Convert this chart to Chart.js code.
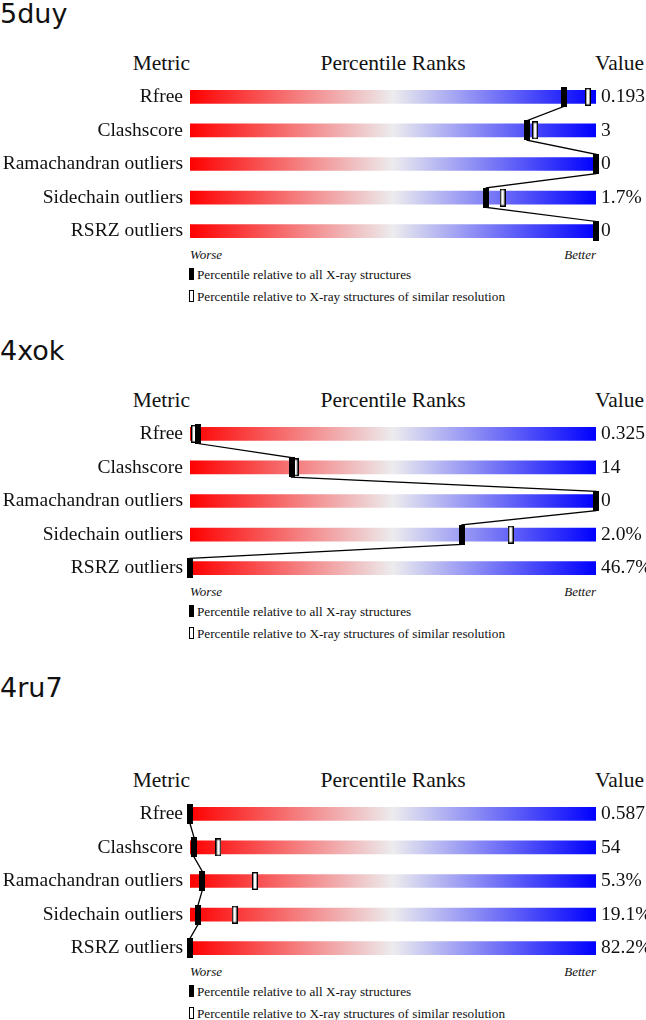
<!DOCTYPE html>
<html>
<head>
<meta charset="utf-8">
<script src="https://cdn.jsdelivr.net/npm/chart.js@4.4.1/dist/chart.umd.min.js"></script>
<style>
  body { margin: 0; background: #fff; }
  #page { position: relative; width: 646px; height: 1020px; overflow: hidden; }
  .t { position: absolute; white-space: nowrap; line-height: 1; color: #111; font-family: 'Liberation Serif', serif; }
  .title { font-family: 'DejaVu Sans', sans-serif; font-size: 27px; left: 0; }
  .hd { font-size: 21.5px; }
  .wb { font-size: 13px; font-style: italic; }
  .lg { font-size: 13.2px; left: 197px; }
  .mk { position: absolute; left: 189px; width: 5px; height: 12px; box-sizing: border-box; }
  canvas { position: absolute; left: 0; }
</style>
</head>
<body>
<div id="page"></div>
<script>
const metrics = ['Rfree', 'Clashscore', 'Ramachandran outliers', 'Sidechain outliers', 'RSRZ outliers'];

const values5duy = ['0.193', '3', '0', '1.7%', '0'];
const all5duy = [92, 83, 100, 73, 100];
const res5duy = [98, 85, 100, 77, 100];

const values4xok = ['0.325', '14', '0', '2.0%', '46.7%'];
const all4xok = [2, 25, 100, 67, 0];
const res4xok = [1, 26, 100, 79, 0];

const values4ru7 = ['0.587', '54', '5.3%', '19.1%', '82.2%'];
const all4ru7 = [0, 1, 3, 2, 0];
const res4ru7 = [0, 7, 16, 11, 0];

const panels = [
    { name: '5duy', top: 0, titleBase: 23, values: values5duy, all: all5duy, res: res5duy },
    { name: '4xok', top: 337, titleBase: 360, values: values4xok, all: all4xok, res: res4xok },
    { name: '4ru7', top: 717, titleBase: 697, values: values4ru7, all: all4ru7, res: res4ru7 }
];

Chart.defaults.font.family = 'Liberation Serif';
const page = document.getElementById('page');

function markerImage(w, h, hollow) {
    const c = document.createElement('canvas');
    c.width = w;
    c.height = h;
    const g = c.getContext('2d');
    if (hollow) {
        g.fillStyle = '#fff';
        g.fillRect(0, 0, w, h);
        g.strokeStyle = '#000';
        g.lineWidth = 1.4;
        g.strokeRect(0.7, 0.7, w - 1.4, h - 1.4);
    } else {
        g.fillStyle = '#000';
        g.fillRect(0, 0, w, h);
    }
    return c;
}
const blackMark = markerImage(6, 20, false);
const hollowMark = markerImage(6, 18, true);

// place text so its baseline lands on y (Liberation Serif ~0.8375 of size above baseline)
function text(str, cls, size, x, base, align) {
    const d = document.createElement('div');
    d.className = 't ' + cls;
    d.textContent = str;
    d.style.top = (base - size * 0.8375) + 'px';
    if (align === 'right') d.style.right = (646 - x) + 'px';
    else if (align === 'center') { d.style.left = x + 'px'; d.style.transform = 'translateX(-50%)'; }
    else d.style.left = x + 'px';
    page.appendChild(d);
    return d;
}

function barGradient(c) {
    const chart = c.chart;
    const x = chart.scales.x;
    if (!chart.chartArea || !x) return '#ddd';
    const g = chart.ctx.createLinearGradient(x.getPixelForValue(0), 0, x.getPixelForValue(100), 0);
    g.addColorStop(0, 'rgb(255,0,0)');
    g.addColorStop(0.5, 'rgb(236,236,238)');
    g.addColorStop(1, 'rgb(0,0,255)');
    return g;
}

panels.forEach(function (p) {
    const off = p.top;
    const title = document.createElement('div');
    title.className = 't title';
    title.textContent = p.name;
    title.style.top = (p.titleBase - 27 * 0.846) + 'px';
    page.appendChild(title);

    text('Metric', 'hd', 21.5, 190, off + 71, 'right');
    text('Percentile Ranks', 'hd', 21.5, 393, off + 71, 'center');
    text('Value', 'hd', 21.5, 595, off + 71, 'left');
    text('Worse', 'wb', 13, 190, off + 259, 'left');
    text('Better', 'wb', 13, 596, off + 259, 'right');
    text('Percentile relative to all X-ray structures', 'lg', 13.2, 197, off + 279, 'left');
    text('Percentile relative to X-ray structures of similar resolution', 'lg', 13.2, 197, off + 301, 'left');

    const m1 = document.createElement('div');
    m1.className = 'mk';
    m1.style.background = '#000';
    m1.style.top = (off + 268) + 'px';
    page.appendChild(m1);
    const m2 = document.createElement('div');
    m2.className = 'mk';
    m2.style.border = '1px solid #000';
    m2.style.background = '#fff';
    m2.style.top = (off + 290) + 'px';
    page.appendChild(m2);

    const cv = document.createElement('canvas');
    cv.width = 646;
    cv.height = 168;
    cv.style.top = (off + 80) + 'px';
    page.appendChild(cv);

    // connecting line: runs from the bottom of one black marker to the top of the next
    const half = 0.29;
    const path = [];
    p.all.forEach(function (v, i) {
        path.push({ x: v, y: i - half }, { x: v, y: i + half });
    });

    new Chart(cv, {
        type: 'bar',
        data: {
            labels: metrics,
            datasets: [
                {
                    type: 'scatter',
                    data: p.all.map((v, i) => ({ x: v, y: i })),
                    yAxisID: 'yl',
                    pointStyle: blackMark,
                    clip: false,
                    order: 0
                },
                {
                    type: 'line',
                    data: path,
                    yAxisID: 'yl',
                    borderColor: '#000',
                    borderWidth: 1.3,
                    pointRadius: 0,
                    clip: false,
                    order: 1
                },
                {
                    type: 'scatter',
                    data: p.res.map((v, i) => ({ x: v, y: i })),
                    yAxisID: 'yl',
                    pointStyle: hollowMark,
                    clip: false,
                    order: 2
                },
                {
                    type: 'bar',
                    indexAxis: 'y',
                    data: metrics.map(() => 100),
                    yAxisID: 'y',
                    barThickness: 13,
                    backgroundColor: barGradient,
                    borderWidth: 0,
                    order: 3
                }
            ]
        },
        options: {
            responsive: false,
            animation: false,
            events: [],
            layout: { padding: 0, autoPadding: false },
            plugins: { legend: { display: false }, tooltip: { enabled: false } },
            scales: {
                x: { type: 'linear', min: 0, max: 100, offset: false, display: false },
                y: {
                    type: 'category',
                    labels: metrics,
                    offset: true,
                    position: 'left',
                    grid: { display: false, drawTicks: false },
                    border: { display: false },
                    ticks: { padding: 7, color: '#111', autoSkip: false, font: { size: 19.5 } },
                    afterFit: s => { s.width = 190; s.paddingTop = 0; s.paddingBottom = 0; }
                },
                yv: {
                    type: 'category',
                    labels: p.values,
                    offset: true,
                    position: 'right',
                    grid: { display: false, drawTicks: false },
                    border: { display: false },
                    ticks: { padding: 5, color: '#111', autoSkip: false, font: { size: 19.5 } },
                    afterFit: s => { s.width = 50; s.paddingTop = 0; s.paddingBottom = 0; }
                },
                yl: { type: 'linear', min: -0.5, max: 4.5, reverse: true, display: false }
            }
        }
    });
});
</script>
</body>
</html>
